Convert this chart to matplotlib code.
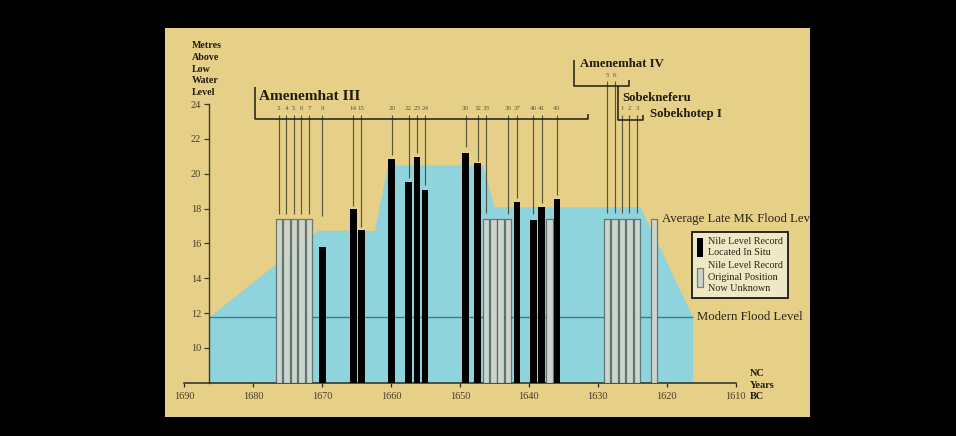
import matplotlib
matplotlib.use("Agg")
import matplotlib.pyplot as plt
from matplotlib.patches import Rectangle, Patch

plt.rcParams['font.family'] = ['Liberation Serif', 'DejaVu Serif']

# ---------------- data ----------------
x_ticks = [1690, 1680, 1670, 1660, 1650, 1640, 1630, 1620, 1610]
y_ticks = [10, 12, 14, 16, 18, 20, 22, 24]

# flood envelope (years BC, metres)
flood_years = [1686.33, 1670.57, 1662.40, 1660.46, 1646.64, 1645.05, 1623.87, 1616.26]
flood_levels = [11.8, 16.75, 16.75, 20.5, 20.5, 18.1, 18.1, 11.8]
modern_flood_level = 11.8
avg_late_mk_level = 17.4

# Nile level records located in situ (black)
situ_years = [1669.92, 1665.45, 1664.29, 1659.88, 1657.42, 1656.21, 1655.02,
              1649.18, 1647.41, 1641.75, 1639.35, 1638.13, 1635.95]
situ_levels = [15.8, 18.0, 16.75, 20.82, 19.5, 20.94, 19.07,
               21.2, 20.63, 18.36, 17.33, 18.1, 18.52]

# Nile level records, original position unknown (grey, drawn at average level)
unknown_years = [1676.25, 1675.17, 1674.08, 1672.99, 1671.89,
                 1646.21, 1645.15, 1644.07, 1643.02, 1637.03,
                 1628.66, 1627.57, 1626.48, 1625.40, 1624.31]
key_bar_year = 1621.82

# regnal-year labels and leader lines
am3_labels = ["3", "4", "5", "6", "7", "9", "14", "15", "20", "22", "23", "24",
              "30", "32", "33", "36", "37", "40", "41", "43"]
am3_years = [1676.25, 1675.17, 1674.08, 1672.99, 1671.89, 1669.92, 1665.45, 1664.29,
             1659.88, 1657.42, 1656.21, 1655.02, 1649.18, 1647.41, 1646.21, 1643.02,
             1641.75, 1639.35, 1638.13, 1635.95]
am3_line_ends = [17.66, 17.66, 17.66, 17.66, 17.66, 17.56, 18.13, 16.92, 21.05, 19.73,
                 21.21, 19.37, 21.51, 20.75, 17.76, 17.66, 18.61, 17.66, 18.3, 18.78]
am4_labels = ["5", "6"]
am4_years = [1628.66, 1627.57]
sob_labels = ["1", "2", "3"]
sob_years = [1626.48, 1625.40, 1624.31]
late_line_end = 17.76

legend_labels = ["Nile Level Record\nLocated In Situ",
                 "Nile Level Record\nOriginal Position\nNow Unknown"]

# ---------------- style ----------------
TAN = '#e6cf87'
BLUE = '#8fd3dd'
GREY = '#cdd4cc'
GREY_EDGE = (0.18, 0.24, 0.24, 0.6)
DARK = '#211c12'
LEAD = '#5a563c'
TICKC = '#4a3f2b'

W, H = 956, 436
fig = plt.figure(figsize=(W / 100, H / 100), dpi=100, facecolor='black')
panel = Rectangle((165 / W, 1 - 416.7 / H), (810 - 165) / W, (416.7 - 27.7) / H,
                  transform=fig.transFigure, facecolor=TAN, edgecolor='none', zorder=-10)
fig.patches.append(panel)

ax = fig.add_axes([184 / W, 1 - 382.7 / H, 551.7 / W, 278.7 / H])
ax.set_facecolor('none')
ax.set_xlim(1690, 1610)
ax.set_ylim(8, 24)

# spines
for s in ['top', 'right']:
    ax.spines[s].set_visible(False)
ax.spines['left'].set_position(('data', flood_years[0]))
ax.spines['left'].set_color('#3c3a2c')
ax.spines['bottom'].set_color('#2c2a20')
ax.spines['left'].set_linewidth(1.0)
ax.spines['bottom'].set_linewidth(1.1)

ax.set_xticks(x_ticks)
ax.set_yticks(y_ticks)
ax.tick_params(axis='x', direction='out', length=3.2, width=0.9, color='#2c2a20',
               labelsize=7.4, labelcolor=TICKC, pad=3.8)
ax.tick_params(axis='y', direction='out', length=3.8, width=0.9, color='#3c3a2c',
               labelsize=7.4, labelcolor=TICKC, pad=2.0)

# flood envelope
ax.fill_between(flood_years, 8, flood_levels, color=BLUE, linewidth=0, zorder=1)
ax.hlines(modern_flood_level, flood_years[0], flood_years[-1], color='#3f7e86',
          linewidth=1.0, zorder=2)

# bars
ax.bar(situ_years, [l - 8 for l in situ_levels], bottom=8, width=0.94,
       color='black', linewidth=0, zorder=4)
ax.bar(unknown_years + [key_bar_year], [avg_late_mk_level - 8] * (len(unknown_years) + 1),
       bottom=8, width=0.95, color=GREY, edgecolor=GREY_EDGE, linewidth=0.9, zorder=3)

# leader lines and regnal-year labels
label_kw = dict(ha='center', va='center', fontsize=5.0, color='#5e5440', clip_on=False)
ax.vlines(am3_years, am3_line_ends, 23.37, colors=LEAD, linewidth=0.85, zorder=2, clip_on=False)
for x, t in zip(am3_years, am3_labels):
    ax.text(x, 23.73, t, **label_kw)
ax.vlines(am4_years, late_line_end, 25.3, colors=LEAD, linewidth=0.85, zorder=2, clip_on=False)
for x, t in zip(am4_years, am4_labels):
    ax.text(x, 25.65, t, **label_kw)
ax.vlines(sob_years, late_line_end, 23.37, colors=LEAD, linewidth=0.85, zorder=2, clip_on=False)
for x, t in zip(sob_years, sob_labels):
    ax.text(x, 23.73, t, **label_kw)

# reign brackets
bk = dict(color=DARK, linewidth=1.1, clip_on=False, solid_capstyle='butt', zorder=5)
ax.plot([1679.7, 1679.7, 1631.46, 1631.46], [24.96, 23.16, 23.16, 23.43], **bk)
ax.plot([1633.4, 1633.4, 1625.47, 1625.47], [26.51, 25.05, 25.05, 25.38], **bk)
ax.plot([1627.02, 1627.02, 1623.4, 1623.4], [25.05, 23.10, 23.10, 23.39], **bk)

rk = dict(fontweight='bold', color=DARK, ha='left', va='center', clip_on=False)
ax.text(1679.17, 24.44, "Amenemhat III", fontsize=11, **rk)
ax.text(1632.58, 26.31, "Amenemhat IV", fontsize=9.2, **rk)
ax.text(1626.38, 24.34, "Sobekneferu", fontsize=9.2, **rk)
ax.text(1622.4, 23.43, "Sobekhotep I", fontsize=9.2, **rk)

avg_txt = ax.text(1620.73, avg_late_mk_level, "Average Late MK Flood Level", fontsize=9.2,
                  color='#2a2416', ha='left', va='center', clip_on=True)
avg_txt.set_clip_path(panel)
ax.text(1615.65, modern_flood_level, "Modern Flood Level", fontsize=9.2,
        color='#2a2416', ha='left', va='center', clip_on=False)

# axis titles
ax.set_ylabel("Metres\nAbove\nLow\nWater\nLevel", rotation=0, ha='left', va='top',
              fontsize=7.2, fontweight='bold', color=DARK, linespacing=1.36)
ax.yaxis.set_label_coords((191.7 - 184) / 551.7, (382.7 - 41.5) / 278.7)
ax.set_xlabel("NC\nYears\nBC", ha='left', va='center', fontsize=7.4, fontweight='bold',
              color=DARK, linespacing=1.3)
ax.xaxis.set_label_coords((750 - 184) / 551.7, (382.7 - 385) / 278.7)

# legend
handles = [Patch(facecolor='black', edgecolor='none'),
           Patch(facecolor=GREY, edgecolor=GREY_EDGE, linewidth=0.9)]
leg = ax.legend(handles, legend_labels, loc='upper left',
                bbox_to_anchor=(692.3 / W, 1 - 231.7 / H), bbox_transform=fig.transFigure,
                frameon=True, fancybox=False, framealpha=1, facecolor='#efe8c4',
                edgecolor='#1a1a14', prop={'family': 'Liberation Serif', 'size': 7.3},
                handlelength=0.55, handleheight=2.55, handletextpad=0.45,
                borderpad=0.5, labelspacing=0.35, borderaxespad=0)
leg.get_frame().set_linewidth(1.3)
for t in leg.get_texts():
    t.set_color('#2a2416')
    t.set_linespacing(1.38)

fig.savefig("out.png", dpi=100, facecolor='black')
